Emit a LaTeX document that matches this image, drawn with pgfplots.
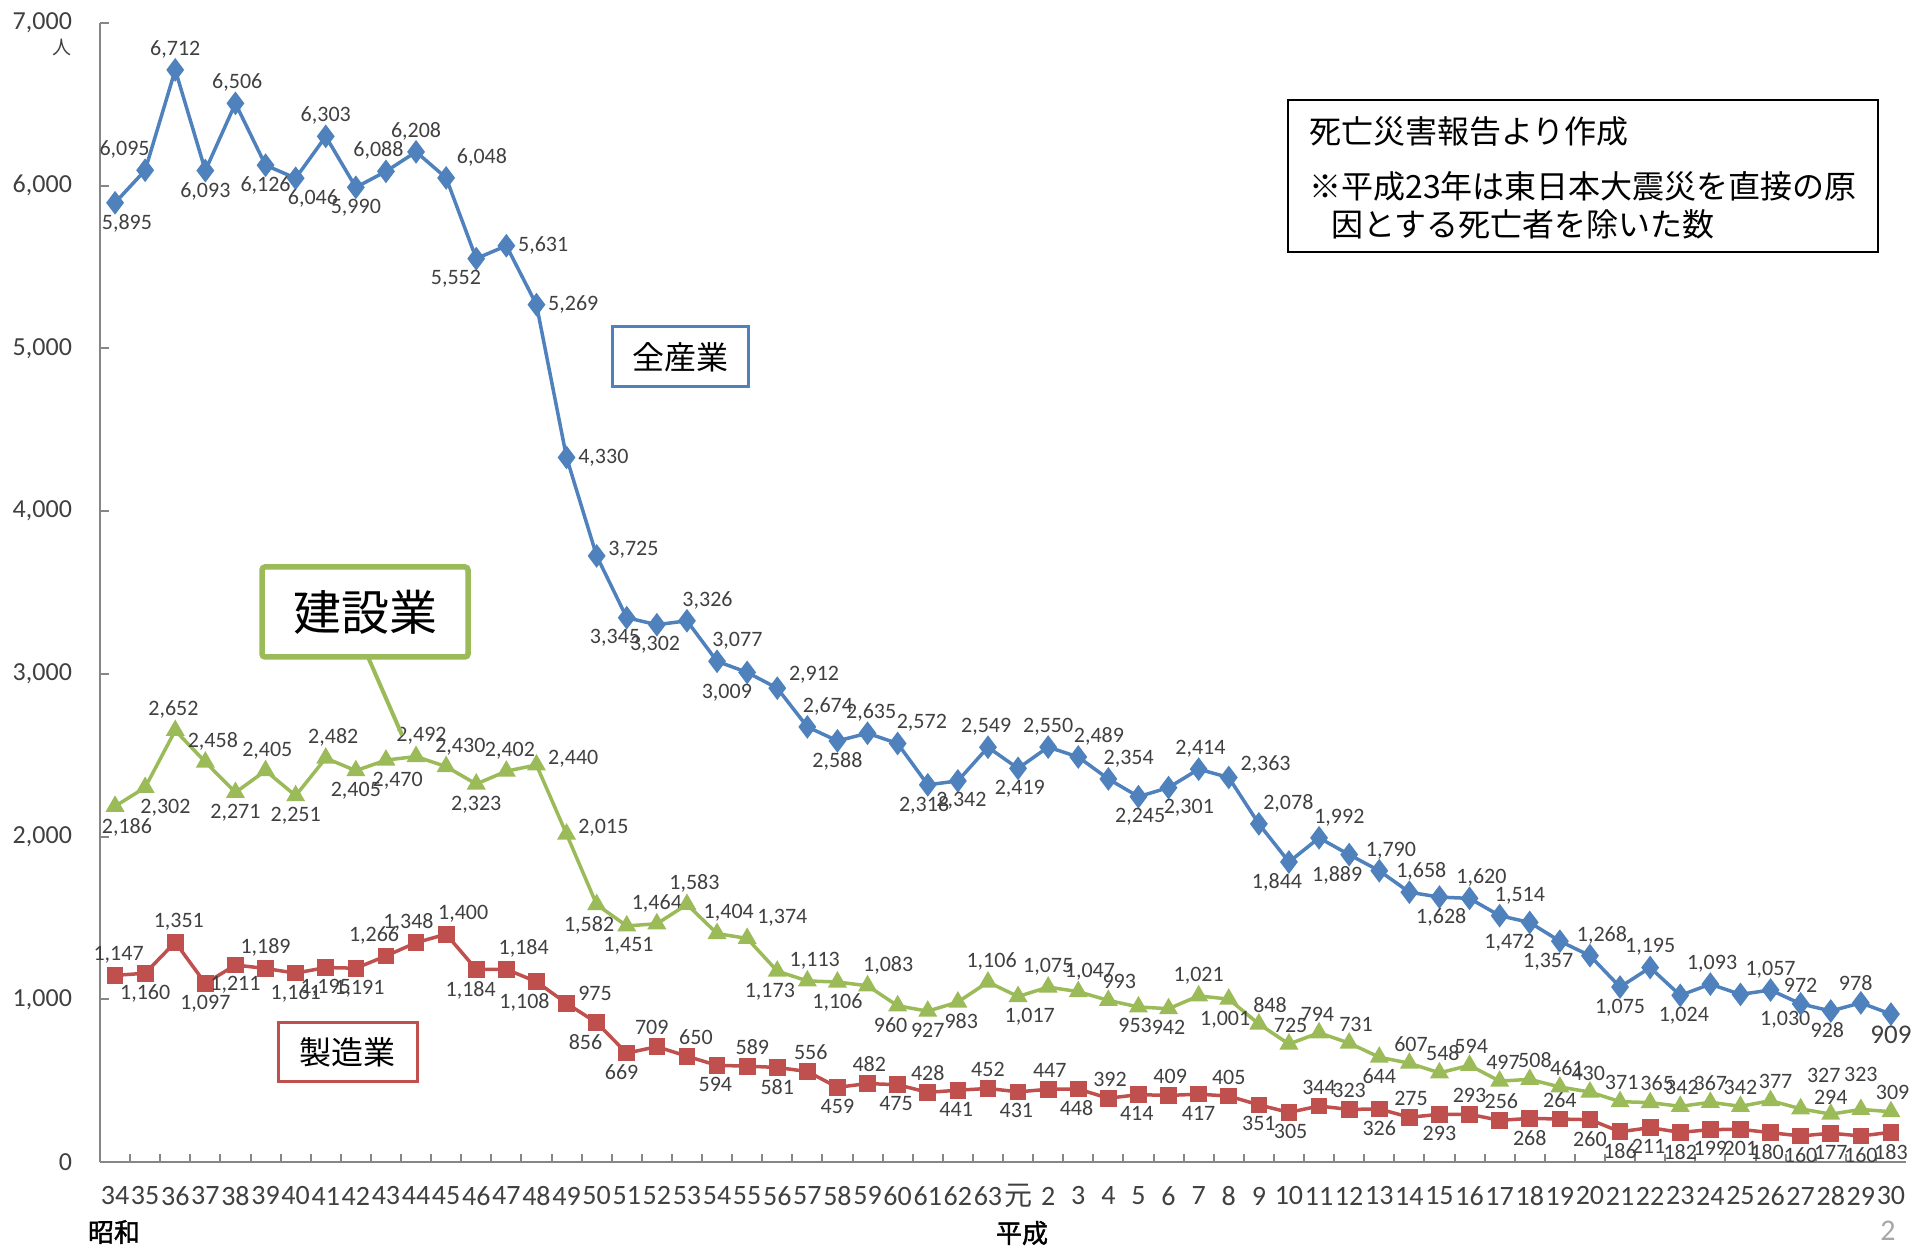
\documentclass[border=0pt]{standalone}
\usepackage{fontspec}
\setmainfont{Carlito}
\newfontfamily\cjk{Noto Sans CJK JP}
\newfontfamily\cjkb[FakeBold=1.5]{Noto Sans CJK JP}
\usepackage{pgfplots}
\pgfplotsset{compat=1.18}
\usepackage{pgfplotstable}

\definecolor{cBlue}{HTML}{4F81BD}
\definecolor{cRed}{HTML}{C0504D}
\definecolor{cGreen}{HTML}{9BBB59}
\definecolor{cAxis}{HTML}{868686}
\definecolor{cText}{HTML}{404040}

\pgfplotstableread{
i all aa con ca man ma fs as cs
0 5895 120 2186 120 1147 260 11 5 5
1 6095 315 2302 135 1160 90 11 5 5
2 6712 270 2652 275 1351 260 11 5 5
3 6093 90 2458 250 1097 90 11 5 5
4 6506 265 2271 90 1211 90 11 5 5
5 6126 90 2405 265 1189 270 11 5 5
6 6046 130 2251 90 1161 90 11 5 5
7 6303 270 2482 250 1195 90 11 5 5
8 5990 90 2405 90 1191 100 11 5 5
9 6088 290 2470 120 1266 300 11 5 5
10 6208 270 2492 255 1348 290 11 5 5
11 6048 210 2430 235 1400 230 11 5 5
12 5552 45 2323 90 1184 75 11 5 5
13 5631 180 2402 260 1184 230 11 5 5
14 5269 180 2440 190 1108 60 11 5 5
15 4330 180 2015 190 975 200 11 5 5
16 3725 190 1582 70 856 60 11 5 5
17 3345 60 1451 95 669 75 11 5 5
18 3302 85 1464 270 709 285 11 5 5
19 3326 225 1583 250 650 245 11 5 5
20 3077 225 1404 240 594 85 11 5 5
21 3009 45 1374 210 589 255 11 5 5
22 2912 200 1173 70 581 90 11 5 5
23 2674 225 1113 250 556 260 11 5 5
24 2588 90 1106 90 459 90 11 5 5
25 2635 260 1083 225 482 265 11 5 5
26 2572 220 960 70 475 85 11 5 5
27 2318 80 927 90 428 270 11 5 5
28 2342 100 983 100 441 85 11 5 5
29 2549 275 1106 260 452 270 11 5 5
30 2419 95 1017 120 431 85 11 5 5
31 2550 270 1075 270 447 265 11 5 5
32 2489 225 1047 240 448 85 11 5 5
33 2354 225 993 240 392 265 11 5 5
34 2245 95 953 80 414 85 11 5 5
35 2301 135 942 90 409 265 11 5 5
36 2414 265 1021 270 417 90 11 5 5
37 2363 200 1001 80 405 270 11 5 5
38 2078 215 848 240 351 90 11 5 5
39 1844 60 725 265 305 95 11 5 5
40 1992 225 794 275 344 270 11 5 5
41 1889 60 731 250 323 270 11 5 5
42 1790 240 644 90 326 90 11 5 5
43 1658 240 607 265 275 265 11 5 5
44 1628 95 548 260 293 90 11 5 5
45 1620 240 594 265 293 270 11 5 5
46 1514 225 497 260 256 265 11 5 5
47 1472 45 508 255 268 90 11 5 5
48 1357 60 461 250 264 270 11 5 5
49 1268 240 430 275 260 90 11 5 5
50 1075 90 371 265 186 90 11 5 5
51 1195 270 365 250 211 85 11 5 5
52 1024 100 342 265 182 90 11 5 5
53 1093 265 367 270 199 90 11 5 5
54 1030 150 342 270 201 90 11 9 5
55 1057 270 377 255 180 80 11 5 5
56 972 270 327 235 160 90 11 5 12
57 928 80 294 270 177 90 11 5 4
58 978 285 323 270 160 90 11 5 13
59 909 90 309 265 183 90 13.5 5 5
}\data

\begin{document}
\begin{tikzpicture}
\begin{axis}[
  at={(0,0)}, anchor=south west,
  scale only axis, width=903pt, height=569.5pt,
  xmin=-0.5, xmax=59.5, ymin=0, ymax=7000,
  axis x line*=bottom, axis y line*=left,
  axis line style={cAxis, line width=1pt, -},
  tick style={cAxis, line width=1pt},
  tick align=inside,
  xtick={0,...,59},
  major x tick style={draw=none},
  minor xtick={0.5,1.5,...,58.5},
  minor tick length=4pt,
  major tick length=4.5pt,
  ytick={0,1000,...,7000},
  xticklabels={34,35,36,37,38,39,40,41,42,43,44,45,46,47,48,49,50,51,52,53,54,55,56,57,58,59,60,61,62,63,{\cjk 元},2,3,4,5,6,7,8,9,10,11,12,13,14,15,16,17,18,19,20,21,22,23,24,25,26,27,28,29,30},
  xticklabel style={font=\fontsize{14pt}{14pt}\selectfont, text=cText, anchor=center, yshift=-17pt},
  yticklabel style={font=\fontsize{13pt}{13pt}\selectfont, text=cText, anchor=east, xshift=-10.5pt},
  /pgf/number format/1000 sep={,},
  /pgf/number format/assume math mode=true,
  clip=false,
]
\addplot[cBlue, line width=1.75pt, mark=diamond*, mark size=4.5pt, mark options={cBlue, solid},
  visualization depends on={\thisrow{aa}\as\labang},
  visualization depends on={\thisrow{fs}\as\labfs},
  visualization depends on={\thisrow{as}\as\labsep},
  nodes near coords,
  every node near coord/.append style={anchor=\labang, text=cText, inner sep=\labsep pt, font=\fontsize{\labfs pt}{\labfs pt}\selectfont}]
  table[x=i, y=all]{\data};
\addplot[cGreen, line width=1.75pt, mark=triangle*, mark size=3.75pt, mark options={cGreen, solid},
  visualization depends on={\thisrow{ca}\as\labang},
  visualization depends on={\thisrow{cs}\as\labsep},
  nodes near coords,
  every node near coord/.append style={anchor=\labang, text=cText, inner sep=\labsep pt, font=\fontsize{11pt}{11pt}\selectfont}]
  table[x=i, y=con]{\data};
\addplot[cRed, line width=1.75pt, mark=square*, mark size=3.3pt, mark options={cRed, solid},
  visualization depends on={\thisrow{ma}\as\labang},
  nodes near coords,
  every node near coord/.append style={anchor=\labang, text=cText, inner sep=5pt, font=\fontsize{11pt}{11pt}\selectfont}]
  table[x=i, y=man]{\data};
\end{axis}

% boxed series labels
\node[draw=cBlue, line width=1.5pt, fill=white, minimum width=68pt, minimum height=30pt, inner sep=0pt,
  font=\cjk\fontsize{16pt}{16pt}\selectfont] at (290pt,402.5pt) {全産業};
\node[draw=cRed, line width=1.5pt, fill=white, minimum width=69.5pt, minimum height=29.5pt, inner sep=0pt,
  font=\cjk\fontsize{16pt}{16pt}\selectfont] at (123.75pt,54.75pt) {製造業};
\draw[cGreen, line width=2pt] (134pt,252.5pt) -- (151pt,213.5pt);
\node[draw=cGreen, line width=2.75pt, fill=white, rounded corners=1.5pt, minimum width=103pt, minimum height=45pt, inner sep=0pt,
  font=\cjk\fontsize{24pt}{24pt}\selectfont] at (132.5pt,275pt) {建設業};

% note box
\draw[black, line width=0.75pt] (594pt,455pt) rectangle (889pt,531pt);
\node[anchor=west, inner sep=0pt, font=\cjk\fontsize{16pt}{16pt}\selectfont] at (604.5pt,515.5pt) {死亡災害報告より作成};
\node[anchor=west, inner sep=0pt, font=\cjk\fontsize{16pt}{16pt}\selectfont] at (604.5pt,488pt) {※平成23年は東日本大震災を直接の原};
\node[anchor=west, inner sep=0pt, font=\cjk\fontsize{16pt}{16pt}\selectfont] at (615.5pt,469pt) {因とする死亡者を除いた数};

% unit and era labels
\node[font=\cjk\fontsize{9.5pt}{9.5pt}\selectfont, text=cText] at (-19pt,557pt) {人};
\node[font=\cjkb\fontsize{13pt}{13pt}\selectfont] at (7pt,-35pt) {昭和};
\node[font=\cjkb\fontsize{13pt}{13pt}\selectfont] at (461pt,-35.5pt) {平成};
\node[font=\fontsize{15pt}{15pt}\selectfont, text=black!35] at (894pt,-34.5pt) {2};

\pgfresetboundingbox
\path[use as bounding box] (-50pt,-42.5pt) rectangle (907.5pt,581pt);
\end{tikzpicture}
\end{document}
